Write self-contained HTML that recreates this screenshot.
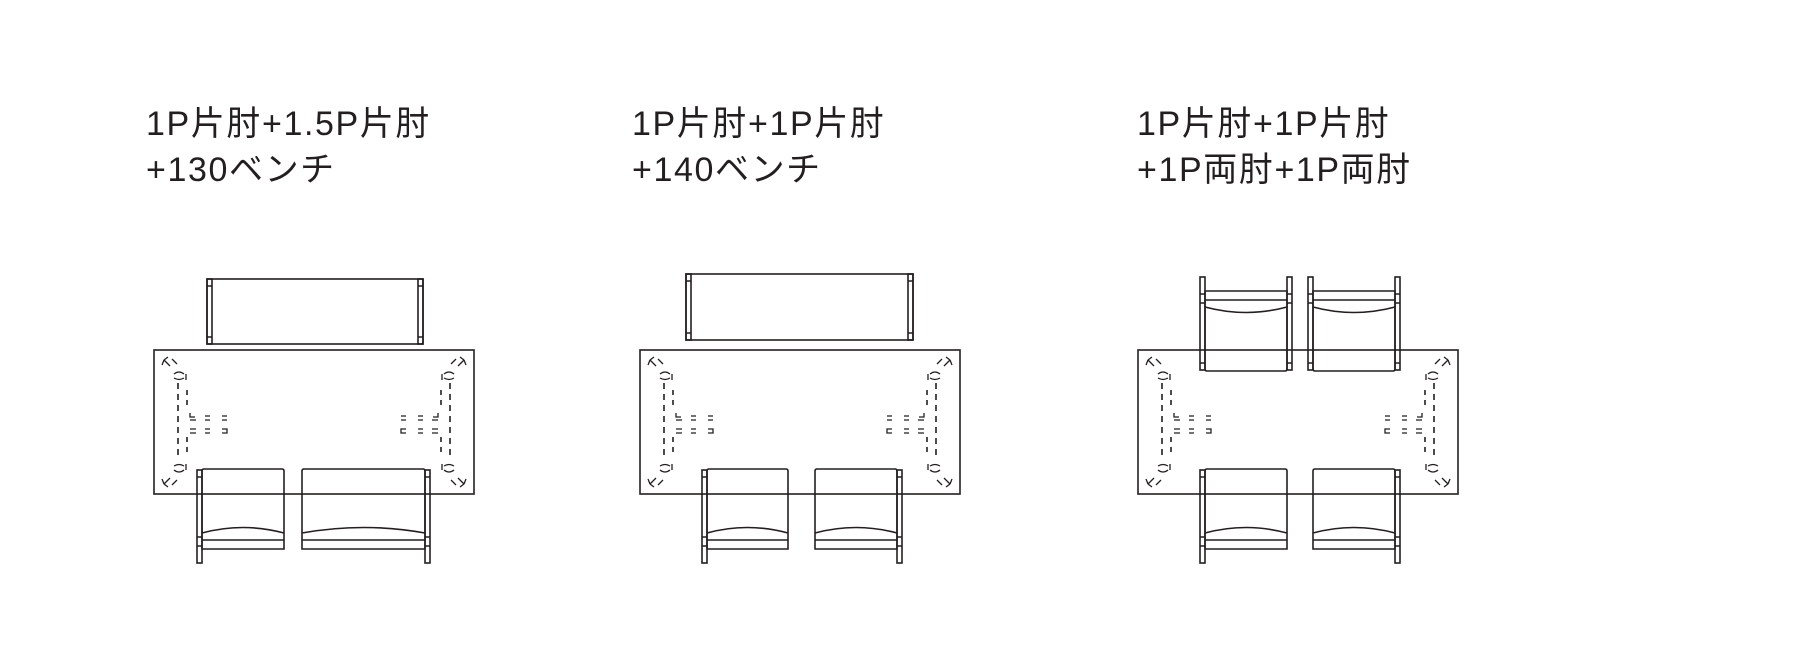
<!DOCTYPE html>
<html><head><meta charset="utf-8"><style>
html,body{margin:0;padding:0;background:#fff;}
body{width:1800px;height:666px;position:relative;overflow:hidden;}
.t{position:absolute;font-family:"Liberation Sans","Noto Sans CJK JP",sans-serif;font-size:34px;line-height:46px;color:#231f20;letter-spacing:1.6px;}
svg{position:absolute;left:0;top:0;}
</style></head><body>
<div class="t" style="left:146px;top:101px;">1P片肘+1.5P片肘<br>+130ベンチ</div>
<div class="t" style="left:632px;top:101px;">1P片肘+1P片肘<br>+140ベンチ</div>
<div class="t" style="left:1137px;top:101px;">1P片肘+1P片肘<br>+1P両肘+1P両肘</div>
<svg width="1800" height="666" viewBox="0 0 1800 666" fill="none" stroke="#231f20" stroke-width="1.6">
<defs>
<g id="half">
  <path d="M24 33 V107" stroke-dasharray="6 5"/>
  <path d="M33 40 V56 M33 87 V103" stroke-dasharray="5 5"/>
  <path d="M10 10 l4 -3 M10 10 l-2 5 M10 10 l6 6 M18 9 l5 5" stroke-width="1.3"/>
  <path d="M20 24 q5 -4 10 0 M20 28 q5 3 10 0 M32 24 v6" stroke-width="1.3"/>
  <path d="M36 63 v4 h5 M36 70 h6 M51 66 h5 M51 70 h5 M68 66 h5 M68 70 h5 M36 79 h6 M36 83 h6 M51 79 h5 M51 83 h5 M68 79 h5 v4 h-5" stroke-width="1.3"/>
  <path d="M10 134 l4 3 M10 134 l-2 -5 M10 134 l6 -6 M18 135 l5 -5" stroke-width="1.3"/>
  <path d="M20 120 q5 4 10 0 M20 116 q5 -3 10 0 M32 114 v6" stroke-width="1.3"/>
</g>
<g id="table">
  <rect x="0" y="0" width="320" height="144"/>
  <use href="#half"/>
  <use href="#half" transform="translate(320,0) scale(-1,1)"/>
</g>
</defs>

<!-- Panel 1 -->
<rect x="207" y="279" width="216" height="65"/>
<rect x="207" y="279" width="5" height="65"/><rect x="418" y="279" width="5" height="65"/>
<path d="M207 286 h5 M207 337 h5 M418 286 h5 M418 337 h5"/>
<use href="#table" transform="translate(154,350)"/>
<path d="M202 549 V471 q0 -2 2 -2 H282 q2 0 2 2 V549 Z M202 540 H284 M202 533 Q243 522 284 533"/>
<rect x="197" y="470" width="5" height="93"/><path d="M197 477 h5 M197 537 h5 M197 546 h5"/>
<path d="M302 549 V471 q0 -2 2 -2 H423 q2 0 2 2 V549 Z M302 540 H425 M302 533 Q364 522 425 533"/>
<rect x="425" y="470" width="5" height="93"/><path d="M425 477 h5 M425 537 h5 M425 546 h5"/>

<!-- Panel 2 -->
<rect x="686" y="274" width="227" height="66"/>
<rect x="686" y="274" width="5" height="66"/><rect x="908" y="274" width="5" height="66"/>
<path d="M686 281 h5 M686 333 h5 M908 281 h5 M908 333 h5"/>
<use href="#table" transform="translate(640,350)"/>
<path d="M707 549 V471 q0 -2 2 -2 H786 q2 0 2 2 V549 Z M707 540 H788 M707 533 Q747 522 788 533"/>
<rect x="702" y="470" width="5" height="93"/><path d="M702 477 h5 M702 537 h5 M702 546 h5"/>
<path d="M815 549 V471 q0 -2 2 -2 H895 q2 0 2 2 V549 Z M815 540 H897 M815 533 Q856 522 897 533"/>
<rect x="897" y="470" width="5" height="93"/><path d="M897 477 h5 M897 537 h5 M897 546 h5"/>

<!-- Panel 3 -->
<use href="#table" transform="translate(1138,350)"/>
<g transform="translate(0,840) scale(1,-1)">
<path d="M1205 549 V471 q0 -2 2 -2 H1285 q2 0 2 2 V549 Z M1205 540 H1287 M1205 533 Q1246 522 1287 533"/>
<rect x="1200" y="470" width="5" height="93"/><path d="M1200 477 h5 M1200 537 h5 M1200 546 h5"/>
<rect x="1287" y="470" width="5" height="93"/><path d="M1287 477 h5 M1287 537 h5 M1287 546 h5"/>
<path d="M1313 549 V471 q0 -2 2 -2 H1393 q2 0 2 2 V549 Z M1313 540 H1395 M1313 533 Q1354 522 1395 533"/>
<rect x="1308" y="470" width="5" height="93"/><path d="M1308 477 h5 M1308 537 h5 M1308 546 h5"/>
<rect x="1395" y="470" width="5" height="93"/><path d="M1395 477 h5 M1395 537 h5 M1395 546 h5"/>
</g>
<path d="M1205 549 V471 q0 -2 2 -2 H1285 q2 0 2 2 V549 Z M1205 540 H1287 M1205 533 Q1246 522 1287 533"/>
<rect x="1200" y="470" width="5" height="93"/><path d="M1200 477 h5 M1200 537 h5 M1200 546 h5"/>
<path d="M1313 549 V471 q0 -2 2 -2 H1393 q2 0 2 2 V549 Z M1313 540 H1395 M1313 533 Q1354 522 1395 533"/>
<rect x="1395" y="470" width="5" height="93"/><path d="M1395 477 h5 M1395 537 h5 M1395 546 h5"/>
</svg>
</body></html>
